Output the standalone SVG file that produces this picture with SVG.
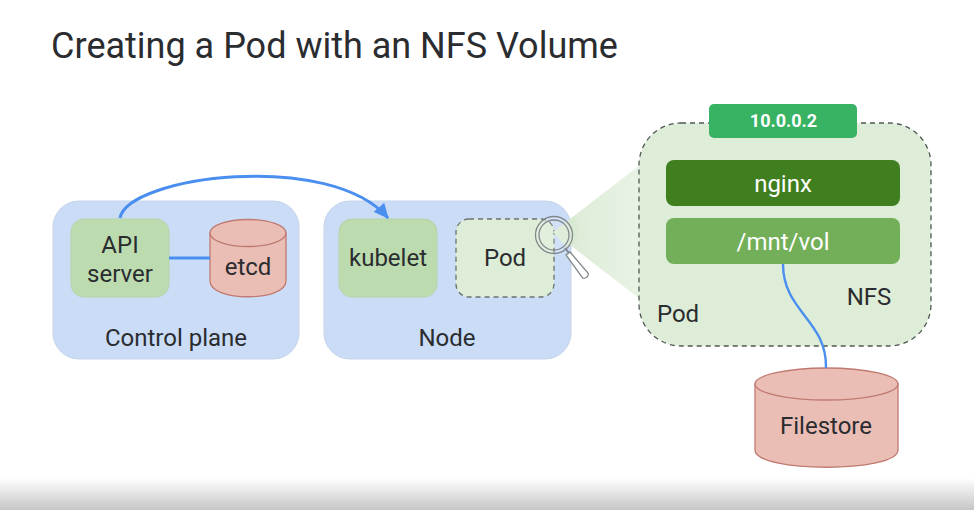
<svg xmlns="http://www.w3.org/2000/svg" width="974" height="510" viewBox="0 0 974 510">
<defs>
<linearGradient id="shade" x1="0" y1="0" x2="0" y2="1"><stop offset="0" stop-color="#ffffff"/><stop offset="1" stop-color="#c6c6c6"/></linearGradient>
<linearGradient id="beam" x1="0" y1="0" x2="1" y2="0"><stop offset="0" stop-color="#d9ead3"/><stop offset="1" stop-color="#e9f3e5"/></linearGradient>
<marker id="arrow" markerUnits="userSpaceOnUse" markerWidth="16" markerHeight="14" refX="14" refY="7" orient="auto"><path d="M0,0 L15,7 L0,14 Z" fill="#4a8ff0"/></marker>
</defs>
<style>
text{font-family:Roboto,"Liberation Sans",sans-serif;fill:#2a2c2f;text-anchor:middle}
.lbl{font-size:24px}
.panel{fill:#cbdcf6;stroke:#c3d3ea;stroke-width:1}
.green{fill:#bcdcb0;stroke:#b5d4aa;stroke-width:1}
.db{fill:#eabdb5;stroke:#c07a70;stroke-width:1.3}
.pod{fill:#deedd8;stroke:#6a726d;stroke-width:1.3;stroke-dasharray:5 4}
.wire{fill:none;stroke:#4a8ff0;stroke-width:3}
.wl{fill:#fff}
.glass{fill:none;stroke:#80878c;stroke-width:1.3}
</style>
<rect width="974" height="510" fill="#fff"/>
<rect y="478" width="974" height="32" fill="url(#shade)"/>
<text id="title" x="334.500" y="58" style="font-size:36px">Creating a Pod with an NFS Volume</text>

<g id="control-plane"><rect class="panel" x="53" y="201" width="246" height="158" rx="26"/><text class="lbl" x="176" y="346">Control plane</text></g>
<g id="node"><rect class="panel" x="324" y="201" width="247" height="158" rx="26"/><text class="lbl" x="447" y="346">Node</text></g>
<path id="zoom-beam" d="M553,232 L640,165 L640,299 Z" fill="url(#beam)"/>

<g id="api-server"><rect class="green" x="71" y="219" width="98" height="78" rx="13"/><text class="lbl" x="120" y="253">API</text><text class="lbl" x="120" y="282">server</text></g>
<g id="etcd"><path class="db" d="M210,233 V281 C210,302 286,302 286,281 V233 Z"/><ellipse class="db" cx="248" cy="233" rx="38" ry="13.500"/><text class="lbl" x="248" y="275">etcd</text></g>
<g id="kubelet"><rect class="green" x="339" y="219" width="98" height="78" rx="13"/><text class="lbl" x="388" y="266">kubelet</text></g>
<g id="pod-small"><rect class="pod" x="456" y="219" width="98" height="78" rx="13"/><path d="M553,232 L573,217 A19,19 0 0 1 567,248 Z" fill="#d9ead3"/><text class="lbl" x="505" y="266">Pod</text></g>

<g id="magnifier">
<circle cx="554" cy="235" r="18.500" fill="#fff" fill-opacity="0.15" stroke="#80878c" stroke-width="1.300"/>
<circle cx="554" cy="235" r="15" class="glass"/>
<path d="M565,248 L569,253" stroke="#80878c" stroke-width="2"/>
<path d="M566,255 L570,252 L588,273 Q589,275 587,277 L585,278 Q583,279 582,277 Z" fill="#fff" stroke="#80878c" stroke-width="1.300"/>
</g>

<g id="nfs-pod">
<rect class="pod" x="639" y="123" width="292" height="223" rx="42" style="stroke:#4f5853"/>
<text class="lbl" x="678" y="322">Pod</text>
<text class="lbl" x="869" y="305">NFS</text>
</g>
<g id="ip"><rect x="709" y="104" width="148" height="34" rx="5" fill="#38b263"/><text x="783.500" y="127" style="fill:#fff;font-size:18px;font-weight:700">10.0.0.2</text></g>
<g id="nginx"><rect x="666" y="160" width="234" height="46" rx="8" fill="#3f7f1f"/><text class="lbl wl" x="783" y="192">nginx</text></g>
<g id="mnt-vol"><rect x="666" y="218" width="234" height="46" rx="8" fill="#73ae58"/><text class="lbl wl" x="783" y="250">/mnt/vol</text></g>
<g id="filestore"><path class="db" d="M755,384 V450 C755,473 898,473 898,450 V384 Z"/><ellipse class="db" cx="826.500" cy="384" rx="71.500" ry="16"/><text class="lbl" x="826" y="434">Filestore</text></g>

<g id="connectors">
<path class="wire" d="M120,218 C128,176 330,150 388,218" marker-end="url(#arrow)"/>
<path class="wire" d="M169,258 H210"/>
<path class="wire" style="stroke-width:2.400" d="M783,264 C783,312 827,320 826,368"/>
</g>
</svg>
